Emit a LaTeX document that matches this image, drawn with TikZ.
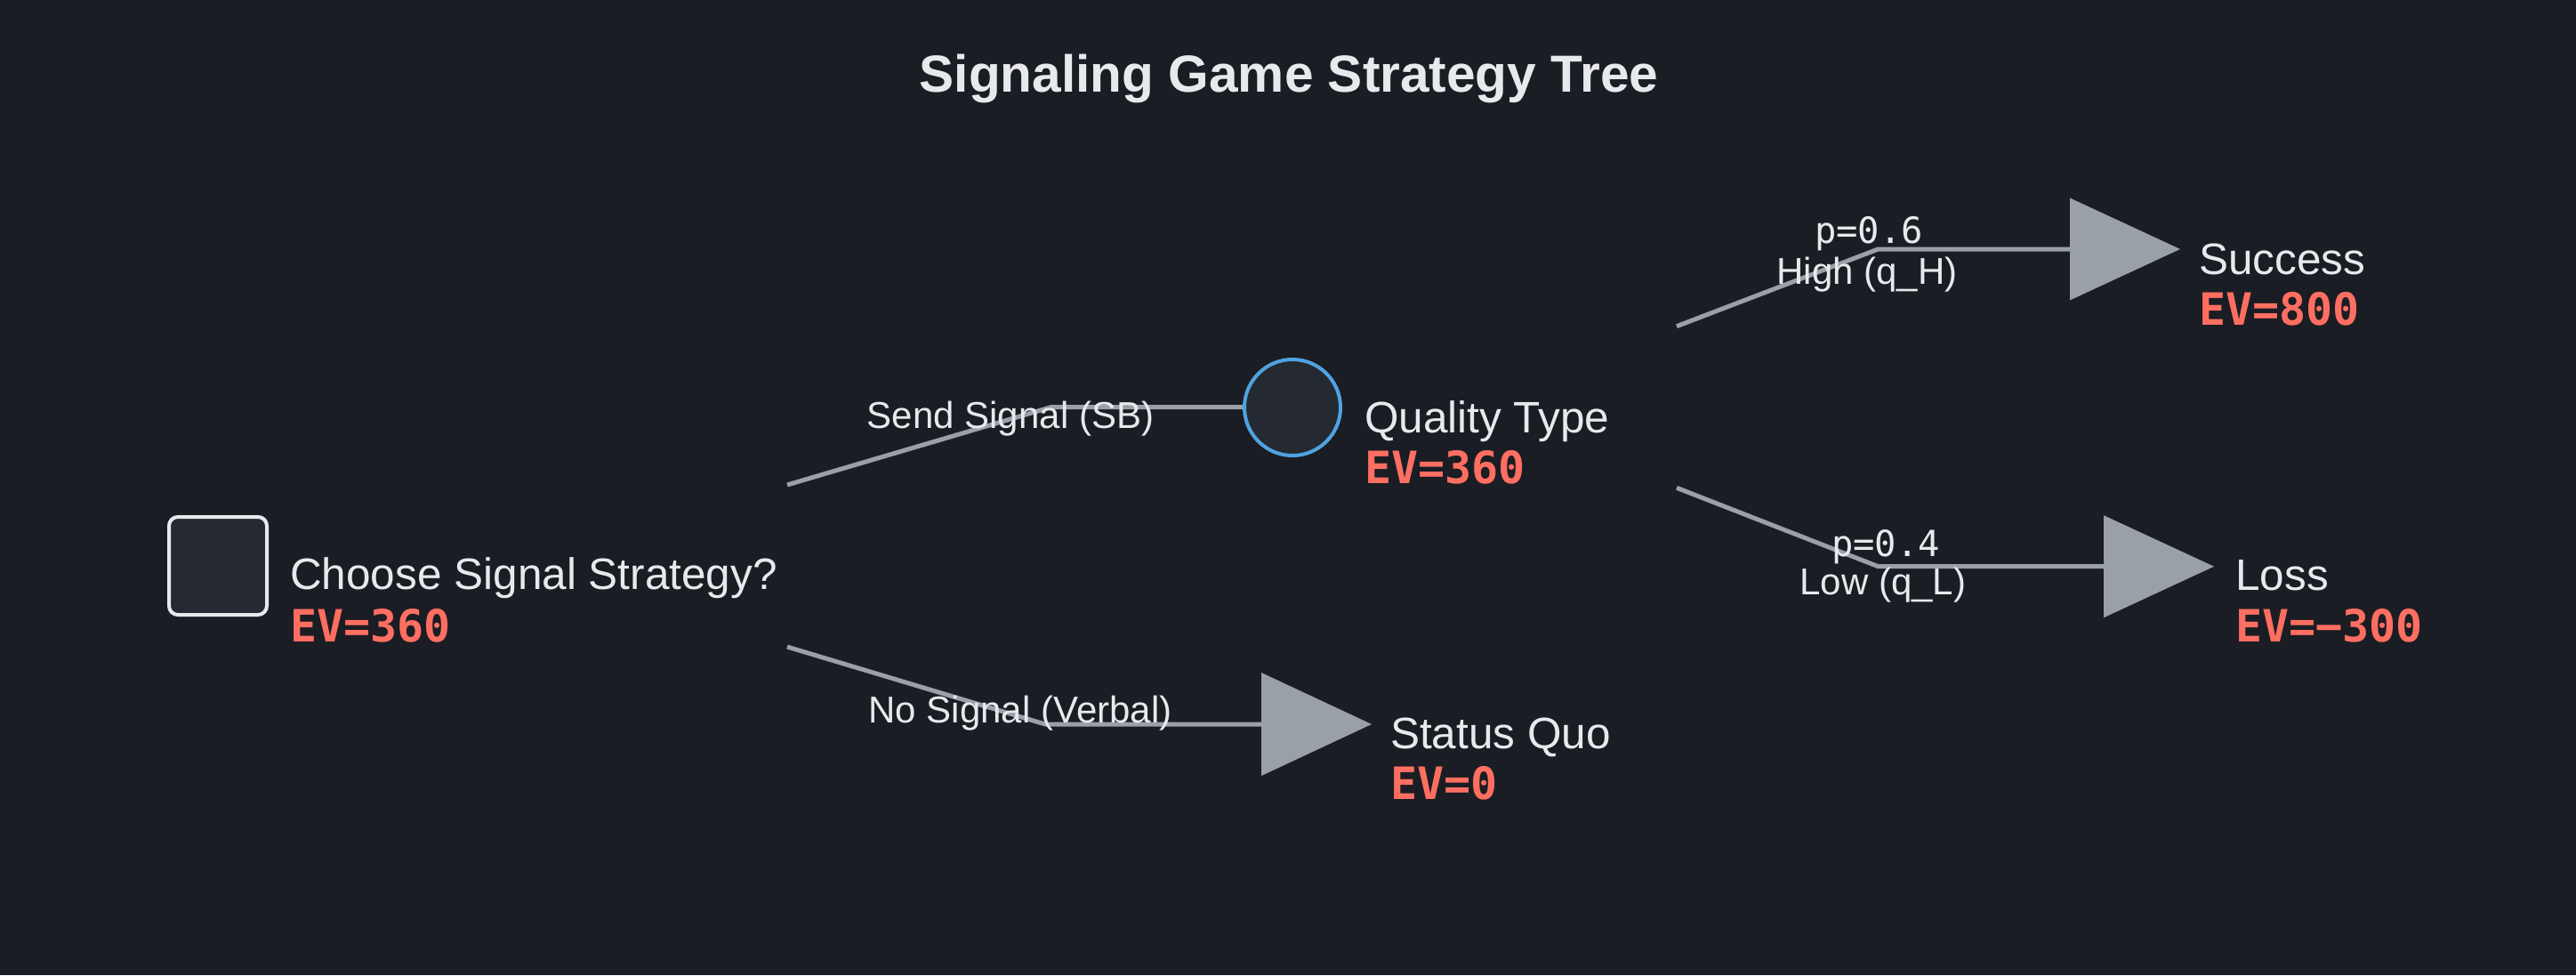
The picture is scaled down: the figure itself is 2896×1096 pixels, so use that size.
\documentclass[tikz,border=0pt]{standalone}
\usepackage{fontspec}
\setmainfont{Liberation Sans}
\newfontfamily\monof{DejaVu Sans Mono}
\definecolor{bg}{HTML}{1B1D24}
\definecolor{boxfill}{HTML}{252932}
\definecolor{boxline}{HTML}{E8E9EC}
\definecolor{chanceblue}{HTML}{4FA3E0}
\definecolor{edgegray}{HTML}{9AA0A8}
\definecolor{evred}{HTML}{FF6F61}
\definecolor{txt}{HTML}{E8E9EC}
\begin{document}
\begin{tikzpicture}[x=1pt,y=-1pt,
  edge/.style={draw=edgegray,line width=5pt},
  tri/.style={fill=edgegray},
  nodelbl/.style={inner sep=0pt,anchor=base west,text=txt,font=\fontsize{49.5}{58}\selectfont},
  evlbl/.style={inner sep=0pt,anchor=base west,text=evred,font=\monof\bfseries\fontsize{50}{60}\selectfont},
  edgelbl/.style={inner sep=0pt,anchor=base,text=txt,font=\fontsize{42}{48}\selectfont},
  problbl/.style={inner sep=0pt,anchor=base,text=txt,font=\monof\fontsize{40.5}{48}\selectfont}]
\useasboundingbox (0,0) rectangle (2896,1096);
\fill[bg] (0,0) rectangle (2896,1096);
% title
\node[inner sep=0pt,anchor=base,text=txt,font=\bfseries\fontsize{58.6}{70}\selectfont] (title) at (1449,103) {Signaling Game Strategy Tree};
% decision node
\node[draw=boxline,fill=boxfill,line width=4pt,rounded corners=10pt,minimum size=110pt,inner sep=0pt] (root) at (245,636) {};
\node[nodelbl] (rootlbl) at (326,662) {Choose Signal Strategy?};
\node[evlbl] (rootev) at (326,721.7) {EV=360};
% chance node
\node[draw=chanceblue,fill=boxfill,line width=4pt,circle,minimum size=108pt,inner sep=0pt] (qt) at (1453,458) {};
\node[nodelbl] (qtlbl) at (1534,486) {Quality Type};
\node[evlbl] (qtev) at (1534,543) {EV=360};
% terminal: status quo
\coordinate (sq) at (1418,814);
\fill[tri] (sq) ++(0,-58) -- ++(124,58) -- ++(-124,58) -- cycle;
\node[nodelbl] (sqlbl) at (1563,841.7) {Status Quo};
\node[evlbl] (sqev) at (1563,898.3) {EV=0};
% terminal: success
\coordinate (su) at (2327,280);
\fill[tri] (su) ++(0,-57.5) -- ++(124,57.5) -- ++(-124,57.5) -- cycle;
\node[nodelbl] (sulbl) at (2472,308.3) {Success};
\node[evlbl] (suev) at (2472,365.7) {EV=800};
% terminal: loss
\coordinate (lo) at (2365,636.7);
\fill[tri] (lo) ++(0,-57.5) -- ++(124,57.5) -- ++(-124,57.5) -- cycle;
\node[nodelbl] (lolbl) at (2513,663.3) {Loss};
\node[evlbl] (loev) at (2513,721) {EV=−300};
% edge coordinates
\coordinate (s1) at (885,545);
\coordinate (b1) at (1182,457.5);
\coordinate (s2) at (885,727);
\coordinate (b2) at (1175,814);
\coordinate (s3) at (1885,366.7);
\coordinate (b3) at (2111.5,280);
\coordinate (s4) at (1885,548.3);
\coordinate (b4) at (2111.5,636.7);
% edges
\draw[edge] (s1) -- (b1) -- (qt.west |- b1);
\draw[edge] (s2) -- (b2) -- (sq);
\draw[edge] (s3) -- (b3) -- (su);
\draw[edge] (s4) -- (b4) -- (lo);
% edge labels
\node[edgelbl] (e1) at (1136,481.7) {Send Signal (SB)};
\node[edgelbl] (e2) at (1147,812.7) {No Signal (Verbal)};
\node[problbl] (p1) at (2101,273.3) {p=0.6};
\node[edgelbl] (e3) at (2099,319.3) {High (q\_H)};
\node[problbl] (p2) at (2120,625) {p=0.4};
\node[edgelbl] (e4) at (2117,668.3) {Low (q\_L)};
\end{tikzpicture}
\end{document}
